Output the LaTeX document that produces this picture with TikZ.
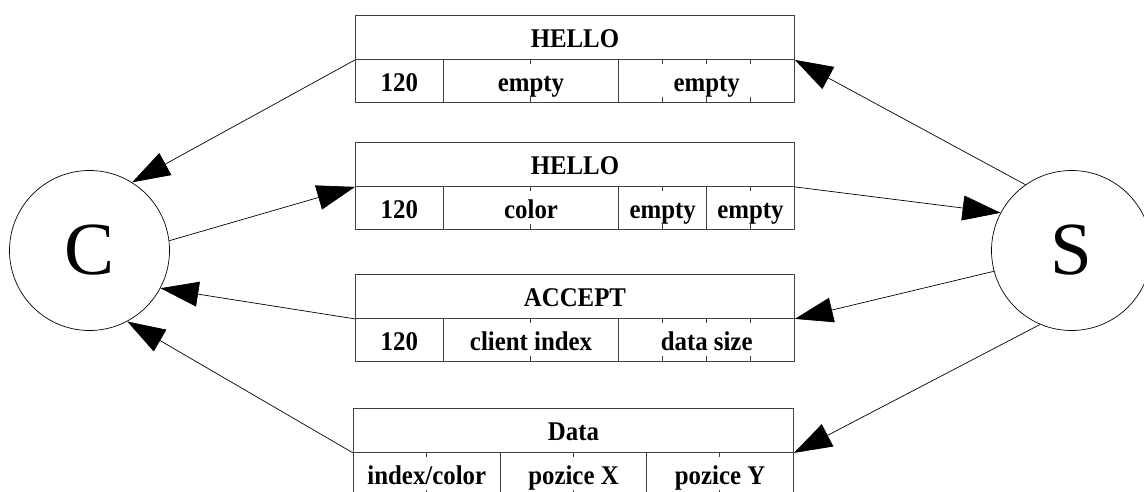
\documentclass[tikz,border=0pt]{standalone}
\usepackage{fontspec}
\setmainfont{Liberation Serif}
\newfontfamily\fieldfont[FakeStretch=0.92]{Liberation Serif}
\usetikzlibrary{arrows.meta}
\begin{document}
\begin{tikzpicture}[x=1pt,y=-1pt,
    head/.style={draw=black!75,line width=0.9pt,minimum width=#1,minimum height=44pt,
      anchor=north west,inner sep=0pt,text height=21pt,text depth=0pt,
      font=\fieldfont\bfseries\fontsize{27}{30}\selectfont},
    head/.default=439pt,
    field/.style={draw=black!75,line width=0.9pt,minimum width=#1,minimum height=43pt,
      anchor=north west,inner sep=0pt,text height=22pt,text depth=0pt,
      font=\fieldfont\bfseries\fontsize{27}{30}\selectfont},
    peer/.style={draw,circle,minimum size=160pt,inner sep=0pt,line width=0.7pt,
      font=\fontsize{75}{80}\selectfont},
    msg/.style={-{Triangle[length=38pt,width=25pt]},line width=0.7pt},
    tick/.style={draw=black!75,line width=0.9pt}]
    \useasboundingbox (0,0) rectangle (1144,492);

    \node[peer] (C) at (89.5,250.5) {C};
    \node[peer] (S) at (1071.5,250.5) {S};

    \node[head] (hello1) at (355,15) {HELLO};
    \node[field=87.8pt]  (h1a) at (355,59)   {120};
    \node[field=175.6pt] (h1b) at (442.8,59) {empty};
    \node[field=175.6pt] (h1c) at (618.4,59) {empty};
    \foreach \x in {530.6,662.3,706.2,750.1}
      \draw[tick] (\x,59) -- ++(0,5) (\x,102) -- ++(0,-5);

    \node[head] (hello2) at (355,142) {HELLO};
    \node[field=87.8pt]  (h2a) at (355,186)   {120};
    \node[field=175.6pt] (h2b) at (442.8,186) {color};
    \node[field=87.8pt]  (h2c) at (618.4,186) {empty};
    \node[field=87.8pt]  (h2d) at (706.2,186) {empty};
    \foreach \x in {530.6,662.3,750.1}
      \draw[tick] (\x,186) -- ++(0,5) (\x,229) -- ++(0,-5);

    \node[head] (accept) at (355,274) {ACCEPT};
    \node[field=87.8pt]  (acca) at (355,318)   {120};
    \node[field=175.6pt] (accb) at (442.8,318) {client index};
    \node[field=175.6pt] (accc) at (618.4,318) {data size};
    \foreach \x in {530.6,662.3,706.2,750.1}
      \draw[tick] (\x,318) -- ++(0,5) (\x,361) -- ++(0,-5);

    \node[head=440pt] (data) at (353,408) {Data};
    \node[field=146.7pt] (data1) at (353,452)   {index/color};
    \node[field=146.7pt] (data2) at (499.7,452) {pozice X};
    \node[field=146.7pt] (data3) at (646.3,452) {pozice Y};
    \foreach \x in {426.3,573,719.7}
      \draw[tick] (\x,452) -- ++(0,5) (\x,495) -- ++(0,-5);

    \draw[msg] (hello1.south west) -- (C.58);
    \draw[msg] (C.7.5) -- (hello2.south west);
    \draw[msg] (accept.south west) -- (C.-28);
    \draw[msg] (data.south west) -- (C.-62);

    \draw[msg] (S.125) -- (hello1.south east);
    \draw[msg] (hello2.south east) -- (S.152);
    \draw[msg] (S.195) -- (accept.south east);
    \draw[msg] (S.247) -- (data.south east);
  \end{tikzpicture}
\end{document}
